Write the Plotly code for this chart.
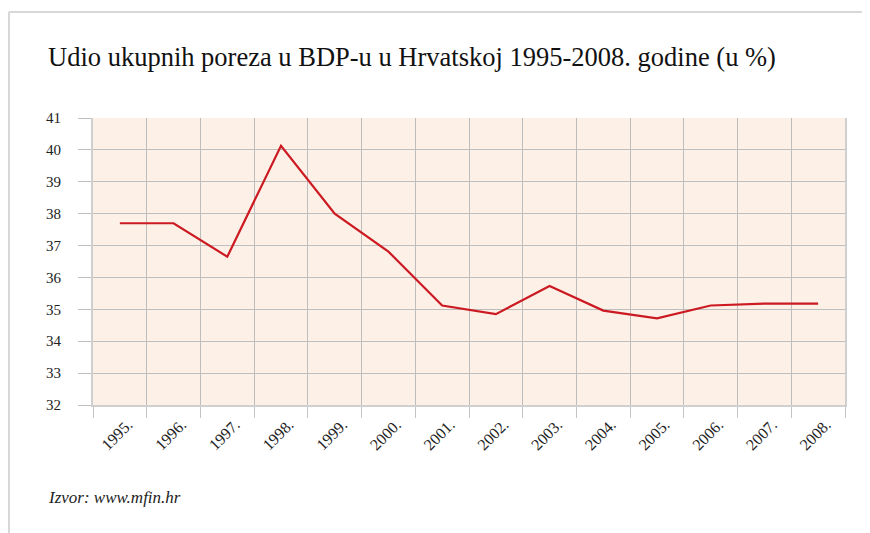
import plotly.graph_objects as go

years = ["1995.", "1996.", "1997.", "1998.", "1999.", "2000.", "2001.",
         "2002.", "2003.", "2004.", "2005.", "2006.", "2007.", "2008."]
values = [37.7, 37.7, 36.65, 40.13, 38.0, 36.81, 35.12,
          34.85, 35.73, 34.96, 34.72, 35.12, 35.18, 35.18]
y_ticks = list(range(32, 42))

OFF = 8  # default body margin of the html page
W, H = 870 - OFF, 533 - OFF
L, R, T, B = 93 - OFF, 25, 118 - OFF, 128
pw, ph = W - L - R, H - T - B

def px(x):
    return (x - OFF - L) / pw

def py(y):
    return (H - B - (y - OFF)) / ph

serif = "Liberation Serif, serif"

fig = go.Figure()
fig.add_trace(go.Scatter(
    x=years, y=values, mode="lines",
    line=dict(color="#CC1A22", width=2.2),
    hoverinfo="x+y", showlegend=False,
))

fig.update_layout(
    width=W, height=H,
    margin=dict(l=L, r=R, t=T, b=B),
    paper_bgcolor="white",
    plot_bgcolor="#FDF1E7",
    font=dict(family=serif, color="#222222", size=14),
    xaxis=dict(
        type="category", tickson="boundaries",
        range=[-0.5, 13.5],
        showgrid=True, gridcolor="#BDBDBD", gridwidth=1,
        ticks="outside", ticklen=11, tickcolor="#C4C4C4", tickwidth=1,
        tickangle=-45, ticklabelshift=8, ticklabelstandoff=2,
        tickfont=dict(family=serif, size=16, color="#222222"),
        showline=True, linecolor="#CFCFCF", linewidth=2,
        zeroline=False, fixedrange=True,
    ),
    yaxis=dict(
        range=[32, 41], tickvals=y_ticks,
        showgrid=True, gridcolor="#BDBDBD", gridwidth=1,
        ticks="outside", ticklen=13, tickcolor="#BDBDBD", tickwidth=1,
        ticklabelstandoff=14,
        tickfont=dict(family=serif, size=15, color="#222222"),
        showline=True, linecolor="#CFCFCF", linewidth=2, mirror=True,
        zeroline=False, fixedrange=True,
    ),
    shapes=[
        dict(type="line", xref="paper", yref="paper",
             x0=px(9), x1=px(9), y0=py(12), y1=py(H + 20),
             line=dict(color="#D8D8D8", width=2)),
        dict(type="line", xref="paper", yref="paper",
             x0=px(9), x1=px(W + 20), y0=py(12), y1=py(12),
             line=dict(color="#D8D8D8", width=2)),
    ],
    annotations=[
        dict(text="Udio ukupnih poreza u BDP-u u Hrvatskoj 1995-2008. godine (u %)",
             xref="paper", yref="paper", x=px(46), y=py(57),
             xanchor="left", yanchor="middle", showarrow=False,
             font=dict(family=serif, size=26.5, color="#111111")),
        dict(text="<i>Izvor: www.mfin.hr</i>",
             xref="paper", yref="paper", x=px(46), y=py(497),
             xanchor="left", yanchor="middle", showarrow=False,
             font=dict(family=serif, size=17, color="#222222")),
    ],
)

fig.write_html("out.html")
